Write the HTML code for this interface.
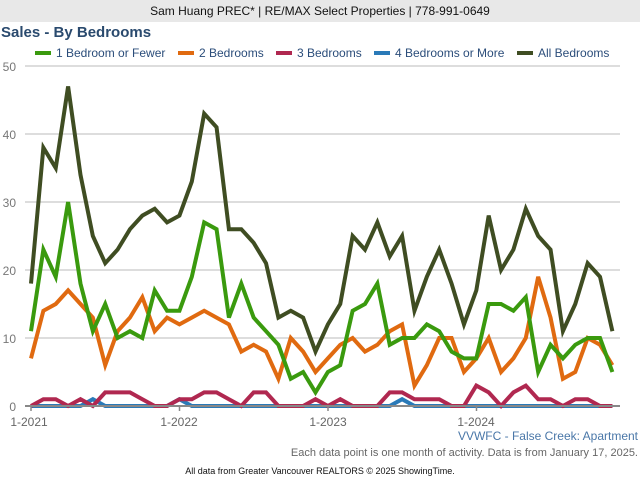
<!DOCTYPE html>
<html><head><meta charset="utf-8"><style>
body{margin:0;width:640px;height:480px;background:#fff;font-family:"Liberation Sans",sans-serif;position:relative;overflow:hidden}
.t{position:absolute;white-space:nowrap}
</style></head><body>
<div class="t" style="left:0;top:0;width:640px;height:22px;background:#e8e8e8;text-align:center;font-size:12px;line-height:22px;color:#111">Sam Huang PREC* | RE/MAX Select Properties | 778-991-0649</div>
<div class="t" style="left:1px;top:24px;font-size:15px;font-weight:bold;color:#2a4a6e">Sales - By Bedrooms</div>
<svg width="640" height="480" style="position:absolute;left:0;top:0" font-family="Liberation Sans, sans-serif">
<g font-size="12" fill="#2b4d7a">
<rect x="35" y="51" width="16" height="4" fill="#3a9a0e"/><text x="56" y="57">1 Bedroom or Fewer</text>
<rect x="178" y="51" width="16" height="4" fill="#e06a10"/><text x="199" y="57">2 Bedrooms</text>
<rect x="276" y="51" width="16" height="4" fill="#b02850"/><text x="297" y="57">3 Bedrooms</text>
<rect x="374" y="51" width="16" height="4" fill="#2a7ab8"/><text x="395" y="57">4 Bedrooms or More</text>
<rect x="517" y="51" width="16" height="4" fill="#3f4d22"/><text x="538" y="57">All Bedrooms</text>
</g>
<g stroke="#bbb" stroke-width="1">
<line x1="25" x2="620" y1="66" y2="66"/><line x1="25" x2="620" y1="134" y2="134"/><line x1="25" x2="620" y1="202" y2="202"/><line x1="25" x2="620" y1="270" y2="270"/><line x1="25" x2="620" y1="338" y2="338"/>
</g>
<g font-size="12" fill="#777" text-anchor="end">
<text x="16" y="71">50</text><text x="16" y="139">40</text><text x="16" y="207">30</text><text x="16" y="275">20</text><text x="16" y="343">10</text><text x="16" y="411">0</text>
</g>
<g transform="translate(31,406) scale(12.37,-6.8)" fill="none" stroke-width="4" stroke-linejoin="miter">
<polyline vector-effect="non-scaling-stroke" stroke="#2a7ab8" points="0,0 4,0 5,1 6,0 11,0 12,1 13,0 29,0 30,1 31,0 47,0"/>
<polyline vector-effect="non-scaling-stroke" stroke="#b02850" points="0,0 1,1 2,1 3,0 4,1 5,0 6,2 7,2 8,2 9,1 10,0 11,0 12,1 13,1 14,2 15,2 16,1 17,0 18,2 19,2 20,0 21,0 22,0 23,1 24,0 25,1 26,0 27,0 28,0 29,2 30,2 31,1 32,1 33,1 34,0 35,0 36,3 37,2 38,0 39,2 40,3 41,1 42,1 43,0 44,1 45,1 46,0 47,0"/>
<polyline vector-effect="non-scaling-stroke" stroke="#e06a10" points="0,7 1,14 2,15 3,17 4,15 5,13 6,6 7,11 8,13 9,16 10,11 11,13 12,12 13,13 14,14 15,13 16,12 17,8 18,9 19,8 20,4 21,10 22,8 23,5 24,7 25,9 26,10 27,8 28,9 29,11 30,12 31,3 32,6 33,10 34,10 35,5 36,7 37,10 38,5 39,7 40,10 41,19 42,13 43,4 44,5 45,10 46,9 47,6"/>
<polyline vector-effect="non-scaling-stroke" stroke="#3a9a0e" points="0,11 1,23 2,19 3,30 4,18 5,11 6,15 7,10 8,11 9,10 10,17 11,14 12,14 13,19 14,27 15,26 16,13 17,18 18,13 19,11 20,9 21,4 22,5 23,2 24,5 25,6 26,14 27,15 28,18 29,9 30,10 31,10 32,12 33,11 34,8 35,7 36,7 37,15 38,15 39,14 40,16 41,5 42,9 43,7 44,9 45,10 46,10 47,5"/>
<polyline vector-effect="non-scaling-stroke" stroke="#3f4d22" points="0,18 1,38 2,35 3,47 4,34 5,25 6,21 7,23 8,26 9,28 10,29 11,27 12,28 13,33 14,43 15,41 16,26 17,26 18,24 19,21 20,13 21,14 22,13 23,8 24,12 25,15 26,25 27,23 28,27 29,22 30,25 31,14 32,19 33,23 34,18 35,12 36,17 37,28 38,20 39,23 40,29 41,25 42,23 43,11 44,15 45,21 46,19 47,11"/>
</g>
<line x1="25" x2="620" y1="406" y2="406" stroke="#888" stroke-width="2"/>
<g stroke="#888" stroke-width="1.5"><line x1="31" x2="31" y1="406" y2="411"/><line x1="179.5" x2="179.5" y1="406" y2="411"/><line x1="328" x2="328" y1="406" y2="411"/><line x1="476.5" x2="476.5" y1="406" y2="411"/></g>
<g font-size="12" fill="#666" text-anchor="middle">
<text x="29" y="426">1-2021</text><text x="179" y="426">1-2022</text><text x="328" y="426">1-2023</text><text x="476" y="426">1-2024</text>
</g>
<text x="638" y="440" font-size="12" fill="#4a77a8" text-anchor="end">VVWFC - False Creek: Apartment</text>
<text x="638" y="456" font-size="11" fill="#666" text-anchor="end">Each data point is one month of activity. Data is from January 17, 2025.</text>
<text x="320" y="474" font-size="9" fill="#111" text-anchor="middle">All data from Greater Vancouver REALTORS © 2025 ShowingTime.</text>
</svg>
</body></html>
